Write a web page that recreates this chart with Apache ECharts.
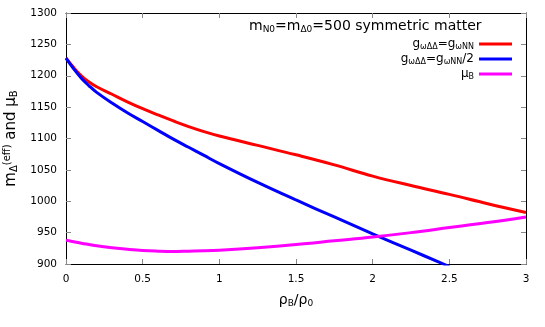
<!DOCTYPE html>
<html>
<head>
<meta charset="utf-8">
<script src="https://cdn.jsdelivr.net/npm/echarts@6/dist/echarts.min.js"></script>
<style>html,body{margin:0;padding:0;background:#fff}#c{width:545px;height:327px}</style>
</head>
<body>
<div id="c"></div>
<script>
var rho = [0, 0.05, 0.1, 0.15, 0.2, 0.3, 0.4, 0.5, 0.6, 0.7, 0.8, 0.9, 1.0, 1.25, 1.5, 1.75, 2.0, 2.25, 2.5, 2.75, 3.0];
var redVals = [1228, 1213, 1200, 1190, 1182.5, 1170.5, 1158.5, 1147.5, 1137.5, 1128, 1119, 1111, 1104, 1089, 1074, 1058, 1040, 1025, 1011, 996, 982];
var blueVals = [1228, 1211, 1196, 1184, 1173.5, 1156.5, 1141, 1127, 1113, 1099, 1086, 1073, 1060, 1030, 1002, 975, 948, 922, 896, null, null];
var magVals = [938, 935.5, 933, 931, 929, 926, 923.5, 921.5, 920.5, 920, 920.5, 921, 922, 926, 931, 937, 943, 950, 958, 966, 975];
var xTicks = {min: 0, max: 3, interval: 0.5};
var yTicks = {min: 900, max: 1300, interval: 50};

function pairs(xs, ys) {
  var out = [];
  for (var i = 0; i < xs.length; i++) if (ys[i] !== null) out.push([xs[i], ys[i]]);
  return out;
}
var FONT = 'DejaVu Sans';
var chart = echarts.init(document.getElementById('c'));
function legendOf(name, top, fmt) {
  return {
    show: true, data: [name], right: 33, top: top, orient: 'vertical', align: 'right', padding: 0,
    icon: 'rect', itemWidth: 33, itemHeight: 3, selectedMode: false,
    formatter: function () { return fmt; },
    textStyle: {fontFamily: FONT, fontSize: 12, color: '#000', rich: {a: {fontFamily: FONT, fontSize: 12, color: '#000'}, s: {fontFamily: FONT, fontSize: 8, color: '#000', verticalAlign: 'bottom', padding: [6, 0, 0, 0]}}}
  };
}
var frameAxis = {
  axisLine: {show: true, onZero: false, lineStyle: {color: '#000', width: 1}},
  axisTick: {show: true, inside: true, length: 5, lineStyle: {color: '#888'}},
  splitLine: {show: false}
};
chart.setOption({
  animation: false,
  grid: {left: 66, right: 19, top: 13, bottom: 63, containLabel: false, outerBoundsMode: 'none'},
  title: {
    text: '{a|m}{s|N0}{a|=m}{s|Δ0}{a|=500 symmetric matter}',
    left: 249, top: 18, padding: 0,
    textStyle: {fontWeight: 'normal', rich: {a: {fontFamily: FONT, fontSize: 14, fontWeight: 'normal', color: '#000'}, s: {fontFamily: FONT, fontSize: 9, fontWeight: 'normal', color: '#000', verticalAlign: 'bottom', padding: [7, 0, 0, 0]}}}
  },
  legend: [
    legendOf('red', 38, '{a|g}{s|ωΔΔ}{a|=g}{s|ωNN}'),
    legendOf('blue', 53, '{a|g}{s|ωΔΔ}{a|=g}{s|ωNN}{a|/2}'),
    legendOf('mu', 68, '{a|μ}{s|B}')
  ],
  xAxis: [
    Object.assign({type: 'value', min: xTicks.min, max: xTicks.max, interval: xTicks.interval, position: 'bottom',
      name: '{a|ρ}{s|B}{a|/ρ}{s|0}', nameLocation: 'middle', nameGap: 28,
      nameTextStyle: {rich: {a: {fontFamily: FONT, fontSize: 14, color: '#000'}, s: {fontFamily: FONT, fontSize: 9, color: '#000', verticalAlign: 'bottom', padding: [7, 0, 0, 0]}}},
      axisLabel: {fontFamily: FONT, fontSize: 10.5, color: '#000', margin: 10}}, frameAxis),
    Object.assign({type: 'value', min: xTicks.min, max: xTicks.max, interval: xTicks.interval, position: 'top', axisLabel: {show: false}}, frameAxis)
  ],
  yAxis: [
    Object.assign({type: 'value', min: yTicks.min, max: yTicks.max, interval: yTicks.interval, position: 'left',
      name: '{a|m}{s|Δ}{p|(eff)}{a| and μ}{s|B}', nameLocation: 'middle', nameGap: 42, nameRotate: 90,
      nameTextStyle: {rich: {a: {fontFamily: FONT, fontSize: 15, color: '#000'}, s: {fontFamily: FONT, fontSize: 10, color: '#000', verticalAlign: 'bottom', padding: [7, 0, 0, 0]}, p: {fontFamily: FONT, fontSize: 10, color: '#000', verticalAlign: 'top', padding: [0, 0, 7, 0]}}},
      axisLabel: {fontFamily: FONT, fontSize: 10.5, color: '#000', margin: 9, formatter: function (v) { return String(v); }}}, frameAxis),
    Object.assign({type: 'value', min: yTicks.min, max: yTicks.max, interval: yTicks.interval, position: 'right', axisLabel: {show: false}}, frameAxis)
  ],
  series: [
    {name: 'red', type: 'line', smooth: 0.4, showSymbol: false, data: pairs(rho, redVals), lineStyle: {color: '#ff0000', width: 3}, itemStyle: {color: '#ff0000'}, clip: true},
    {name: 'blue', type: 'line', smooth: 0.4, showSymbol: false, data: pairs(rho, blueVals), lineStyle: {color: '#0000ff', width: 3}, itemStyle: {color: '#0000ff'}, clip: true},
    {name: 'mu', type: 'line', smooth: 0.4, showSymbol: false, data: pairs(rho, magVals), lineStyle: {color: '#ff00ff', width: 3}, itemStyle: {color: '#ff00ff'}, clip: true}
  ]
});
</script>
</body>
</html>
